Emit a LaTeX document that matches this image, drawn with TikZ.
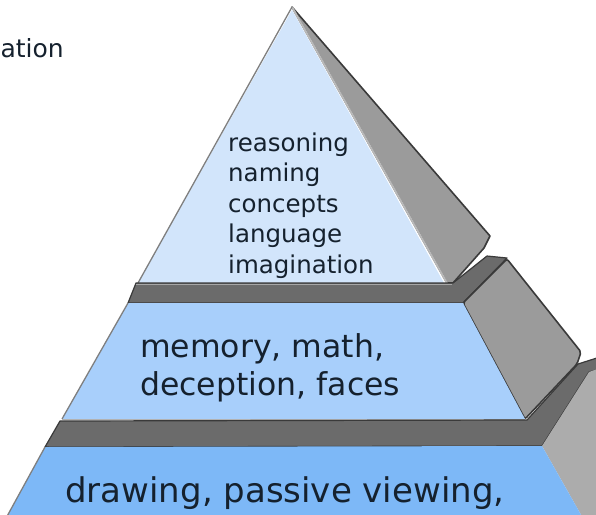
\documentclass[tikz,border=0pt]{standalone}
\usepackage{fontspec}
\setmainfont{DejaVu Sans}
\usetikzlibrary{calc}
\definecolor{topblue}{HTML}{D2E5FB}
\definecolor{midblue}{HTML}{A8CFFB}
\definecolor{lowblue}{HTML}{7DB8F7}
\definecolor{sidegray}{HTML}{9B9B9B}
\definecolor{lowgray}{HTML}{ACACAC}
\definecolor{ledgegray}{HTML}{6B6B6B}
\definecolor{edgegray}{HTML}{3A3A3A}
\definecolor{inkblue}{HTML}{15212E}

\begin{document}
\begin{tikzpicture}[x=1pt,y=-1pt,line join=round,
  front/.style={draw=edgegray!65,line width=1.3pt},
  side/.style={fill=sidegray,draw=edgegray,line width=1.6pt},
  ledge/.style={fill=ledgegray,draw=edgegray,line width=1.2pt},
  tiertext/.style={text=inkblue,anchor=base west,inner sep=0pt}]
\useasboundingbox (0,0) rectangle (596,514);
\clip (0,0) rectangle (596,514);
% top tier
\coordinate (T) at (292,7); \coordinate (TL) at (138,283); \coordinate (TR) at (447,283);
\draw[side] (T)--(490,236)--(484,248)--(453,283)--(TR)--cycle;
\draw[gray!55,line width=2pt] (T)--(TR);
\fill[topblue] ($(T)+(0,3)$)--($(TR)+(-3,0)$)--(TL)--cycle;
\draw[front] (TL)--(T);
% first ledge
\coordinate (ML) at (128,303); \coordinate (MR) at (463,303);
\draw[ledge] (136,283)--(453,283)--(487,256)--(507,258)--(MR)--(ML)--cycle;
\draw[gray!70,line width=1pt] (136,284)--(452,284);
% middle tier
\coordinate (MBL) at (62,419); \coordinate (MBR) at (525,419);
\draw[side,rounded corners=2pt] (MR)--(507,259)--(581,352)--(577,364)--(MBR)--cycle;
\fill[midblue] (ML)--(MR)--(MBR)--(MBL)--cycle;
\draw[front] (MBL)--(ML);
\draw[gray!60,line width=1pt] (MBL)--(MBR);
% second ledge
\coordinate (BL) at (45,447); \coordinate (BR) at (542,446);
\draw[ledge] (60,421)--(527,420)--(578,364)--(600,357)--(600,369)--(589,372)--(BR)--(BL)--cycle;
% bottom tier
\fill[lowgray] (BR)--(589,372)--(600,368)--(600,520)--(584,520)--cycle;
\fill[lowblue] (BL)--(BR)--(584,520)--(5,520)--cycle;
\draw[front] (5,520)--(BL);
% texts
\node[tiertext,anchor=base east,font=\fontsize{25}{30}\selectfont] (cut) at (64,57) {ation};
\foreach \w [count=\i] in {reasoning,naming,concepts,language,imagination}
  \node[tiertext,font=\fontsize{24.5}{30}\selectfont] (top\i) at (228,{151+30.5*(\i-1)}) {\w};
\node[tiertext,font=\fontsize{31.5}{38}\selectfont] (mid1) at (140,357) {memory, math,};
\node[tiertext,font=\fontsize{31.5}{38}\selectfont] (mid2) at (140,395) {deception, faces};
\node[tiertext,font=\fontsize{34}{40}\selectfont] (low1) at (65,502) {drawing, passive viewing,};
\end{tikzpicture}
\end{document}
